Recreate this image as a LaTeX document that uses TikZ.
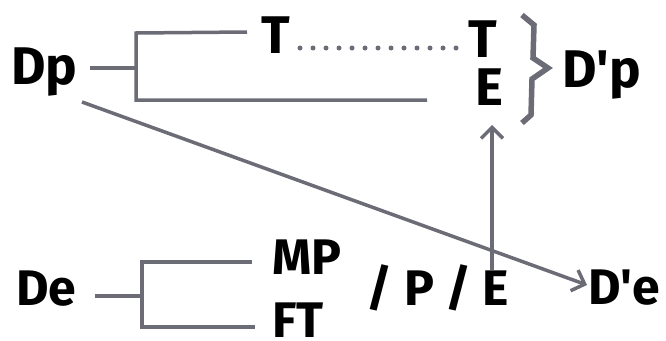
\documentclass[tikz,border=0pt]{standalone}
\usepackage{fontspec}
\setmainfont{Fira Sans}
\usetikzlibrary{arrows.meta,calc}
\definecolor{lgray}{RGB}{108,108,118}
\begin{document}
\begin{tikzpicture}[x=1pt,y=-1pt,
  lbl/.style={font=\bfseries\fontsize{53}{53}\selectfont, inner sep=0pt, anchor=base west},
  lbls/.style={font=\bfseries\fontsize{50}{50}\selectfont, inner sep=0pt, anchor=base west},
  ln/.style={draw=lgray, line width=3.5pt},
  arr/.style={ln, -{Straight Barb[length=11pt,width=22pt,line width=3.5pt]}},
  dots/.style={draw=lgray, line width=5pt, line cap=round, dash pattern=on 0pt off 13pt},
  brace/.style={draw=lgray, line width=5.5pt, line join=miter}]
\useasboundingbox (0,0) rectangle (666,340);
% upper row
\node[lbl] (Dp) at (11,84) {Dp};
\node[lbl] (T1) at (261,53) {T};
\node[lbl] (T2) at (468,57) {T};
\node[lbl] (E1) at (475,105) {E};
\node[lbl] (Dpp) at (562,87) {D\textquotesingle p};
% lower row
\node[lbls] (De) at (16,305) {De};
\node[lbls] (MP) at (272,274) {MP};
\node[lbls] (FT) at (272,337) {FT};
\node[lbls] (PP) at (366,305) {/ P /};
\node[lbls] (E2) at (482,305) {E};
\node[lbls] (Dpe) at (588,304) {D\textquotesingle e};
% upper bracket
\coordinate (dps) at (90,68);
\coordinate (dpj) at (136,68);
\coordinate (dpt) at (136,33);
\coordinate (dpb) at (136,100);
\coordinate (dpte) at (247,32);
\coordinate (dpbe) at (427,100);
\draw[ln] (dps) -- (dpj);
\draw[ln] (dpte) -- (dpt) -- (dpb) -- (dpbe);
\draw[dots] ($(T1.base west)+(39,-5)$) -- ($(T2.base west)+(-1,-9)$);
% lower bracket
\coordinate (des) at (95,296);
\coordinate (dej) at (142,296);
\coordinate (det) at (142,262);
\coordinate (deb) at (142,327);
\coordinate (dete) at (252,262);
\coordinate (debe) at (255,327);
\draw[ln] (des) -- (dej);
\draw[ln] (dete) -- (det) -- (deb) -- (debe);
% brace
\coordinate (br1) at (522,15);
\coordinate (br2) at (534,25);
\coordinate (br3) at (533,58);
\coordinate (br4) at (548,68);
\coordinate (br5) at (532,79);
\coordinate (br6) at (531,115);
\coordinate (br7) at (522,123);
\draw[brace] (br1) -- (br2) -- (br3) -- (br4) -- (br5) -- (br6) -- (br7);
% arrows
\coordinate (vs) at ($(E2.base west)+(10,-35)$);
\coordinate (vt) at ($(E1.base west)+(17,20)$);
\draw[arr] (vs) -- (vt);
\coordinate (ds) at ($(Dp.base west)+(71,18)$);
\coordinate (dt) at ($(Dpe.base west)+(-1,-19)$);
\draw[arr] (ds) -- (dt);
\end{tikzpicture}
\end{document}
